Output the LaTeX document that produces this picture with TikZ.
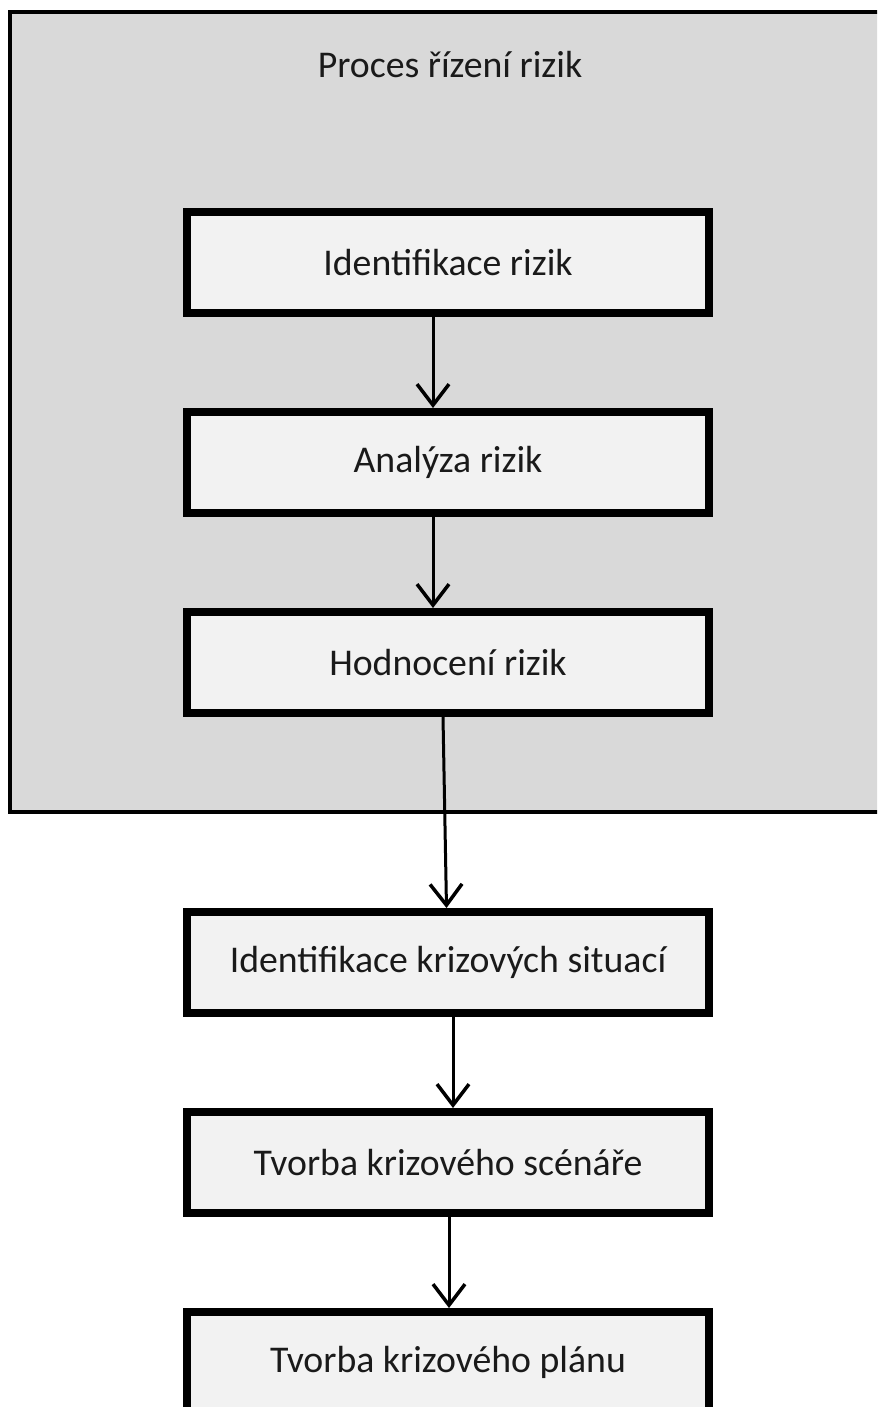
\documentclass[tikz,border=0pt]{standalone}
\usepackage{fontspec}
\setmainfont{Carlito}
\usetikzlibrary{arrows.meta}

\definecolor{panelgray}{HTML}{D9D9D9}
\definecolor{boxgray}{HTML}{F2F2F2}
\definecolor{textblack}{HTML}{1A1A1A}

\begin{document}
\begin{tikzpicture}[
  x=0.02cm,
  y=-0.02cm,
  line join=miter,
  panel/.style={draw=black,fill=panelgray,line width=0.08cm},
  label/.style={text=textblack,font=\fontsize{21.5}{25}\selectfont},
  stepbox/.style={label,draw=black,fill=boxgray,line width=0.16cm,
    minimum width=10.44cm,minimum height=2.02cm,inner sep=0pt},
  flow/.style={draw=black,line width=0.06cm,
    -{Straight Barb[length=0.42cm,width=0.64cm,line width=0.07cm]}}
]
  % Page frame; the grey panel runs off the right edge.
  \useasboundingbox (0,0) rectangle (877,1407);
  \clip (0,0) rectangle (877,1407);

  % Grey panel of the risk management process.
  \coordinate (p0) at (10,12);
  \coordinate (p1) at (910,812);
  \draw[panel] (p0) rectangle (p1);
  \node[label] (title) at (450,65) {Proces řízení rizik};

  % Steps inside the panel.
  \node[stepbox] (idrizik) at (448,262.5) {Identifikace rizik};
  \node[stepbox] (analyza) at (448,462.5) {Analýza rizik};
  \node[stepbox] (hodnoceni) at (448,662.5) {Hodnocení rizik};

  % Steps below the panel.
  \node[stepbox] (idkrize) at (448,962.5) {Identifikace krizových situací};
  \node[stepbox] (scenar) at (448,1162.5) {Tvorba krizového scénáře};
  \node[stepbox] (plan) at (448,1362.5) {Tvorba krizového plánu};

  % Arrows, a little off centre as in the source.
  \draw[flow] ([xshift=-0.30cm]idrizik.south) -- ([xshift=-0.30cm]analyza.north);
  \draw[flow] ([xshift=-0.30cm]analyza.south) -- ([xshift=-0.30cm]hodnoceni.north);
  \draw[flow] ([xshift=-0.10cm]hodnoceni.south) -- ([xshift=-0.03cm]idkrize.north);
  \draw[flow] ([xshift=0.10cm]idkrize.south) -- ([xshift=0.10cm]scenar.north);
  \draw[flow] ([xshift=0.02cm]scenar.south) -- ([xshift=0.02cm]plan.north);
\end{tikzpicture}
\end{document}
